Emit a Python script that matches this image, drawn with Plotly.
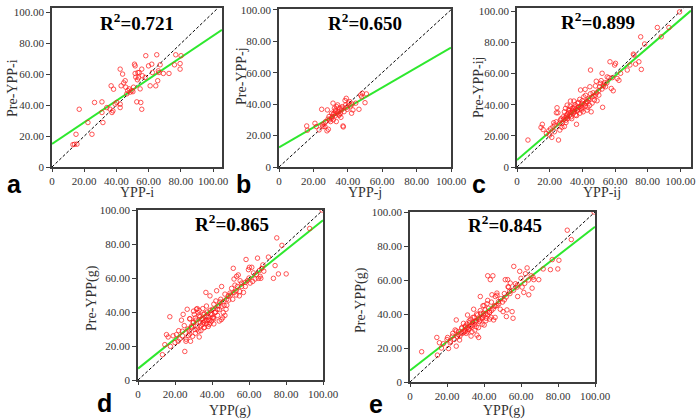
import plotly.graph_objects as go

# ---------------- data ----------------
a_x = [14, 14.9, 16.9, 22.3, 24.8, 26.4, 31, 31, 31.6, 34, 36.7, 37.2, 38.2, 37.8, 39.2, 40.2, 42.3, 42.3,
       42.3, 42.9, 43.8, 45.4, 45.8, 46.4, 47, 47.9, 49.5, 50.6, 51.2, 51.6, 51.6, 52, 52.6, 53.3, 53.7,
       54.1, 54.7, 55.1, 55.7, 55.7, 56.1, 58.2, 57.8, 59.9, 60.9, 61.9, 62.3, 64.4, 65, 65.6, 66, 66.4,
       67.1, 69.1, 72.6, 76, 76.8, 79.5, 79.5, 80.1, 13, 15.5, 48.5, 50.2, 44.5, 53, 36]
a_y = [14.7, 21.2, 37.4, 28.8, 21.2, 41.8, 42.2, 35.3, 28.8, 38.5, 52.6, 35.3, 50.4, 36.4, 40.7, 41.8, 38.5,
       40.7, 63.4, 52.6, 60.2, 55.9, 51.7, 47.4, 49.5, 50.6, 49.5, 51.7, 66.6, 65.5, 60.6, 58.2, 42.2, 61.2,
       57.8, 61.2, 50.6, 41.8, 37.4, 63.4, 59.1, 72.1, 58, 65.5, 52.6, 66.6, 61.2, 52.6, 72.7, 55.9, 62.3,
       61.2, 66.2, 60.6, 60.6, 66.2, 72.7, 67, 63.4, 72.1, 14.5, 14.8, 48.5, 48.8, 54.5, 56.5, 37.5]

b_x = [16.1, 16.5, 20.9, 21.7, 23.3, 24.8, 25.2, 25.6, 26.2, 26.7, 27.1, 28.1, 28.7, 29.1, 29.5, 30, 30.6,
       31, 31.4, 31.6, 32, 32.2, 32.6, 32.9, 33.3, 33.5, 33.9, 34.1, 34.5, 34.9, 35.3, 35.7, 36, 36.4, 36.8,
       37.2, 37.8, 38.4, 38.8, 39.1, 39.7, 40.3, 41.1, 41.7, 42.2, 43, 44.6, 46.5, 47.5, 48.4, 50, 50.8,
       27.9, 37.4, 48, 30.5, 33, 35, 31.5, 28.5, 36.5, 39.5, 42.5]
b_y = [26.1, 23.4, 27.8, 25.7, 23.6, 36.7, 26.7, 25.7, 27.4, 25.7, 28.9, 36.3, 24, 32.1, 30, 28.9, 34.2,
       32.1, 40.6, 30, 34.2, 37.4, 32.5, 36.3, 28.9, 38.4, 34.2, 39.5, 35.2, 33.1, 37.4, 34.2, 31.6, 36.3,
       38.4, 26.1, 35.2, 42.3, 39.5, 43.7, 36.7, 40.6, 41.6, 38.9, 34.2, 36.3, 40.6, 36.7, 45.8, 46.9,
       40.9, 46.5, 23, 25.5, 44.7, 31, 35.5, 33, 33.5, 30.5, 37.5, 38, 40]

c_x = [6.7, 14.7, 15.5, 19.4, 20, 21.3, 22, 22.5, 22.9, 24.1, 25, 25.4, 24.5, 26.2, 26.6, 27.6, 28.2, 29,
       29.7, 29.9, 30.3, 30.7, 31.1, 31.7, 32.3, 32.7, 33.1, 33.7, 34.4, 34.8, 35.2, 35.8, 36.4, 36.8, 37.2,
       37.8, 38.4, 38.9, 39.3, 39.9, 40.5, 40.9, 41.7, 41.9, 42.5, 42.9, 43.4, 44, 44.6, 45, 45.4, 46, 46.6,
       47.4, 48, 48.7, 49, 50.1, 50.7, 51.1, 51.5, 52.1, 52.4, 52.8, 53.6, 54.2, 55.2, 56.2, 56.9, 57.7,
       58.3, 58.9, 59.7, 60.3, 61.3, 62.4, 63.4, 67.5, 69.1, 71.6, 72.6, 74.6, 75.7, 76.1, 78.1, 85.9, 88.3,
       93, 99.5, 71.2,
       28.5, 29.5, 30.5, 31, 32, 33, 34, 35, 36, 37, 38, 39, 40, 41, 42, 43, 44, 35.5, 36.5, 33.5, 31.5, 30,
       27, 26, 38.5, 40, 42, 45, 47, 46, 48, 50, 52, 53, 55, 48.5, 44.5, 39.5, 37.5, 34.5, 32.5, 29, 27.5,
       24, 23, 20.5, 18, 16]
c_y = [17.3, 25.4, 27.4, 23.2, 20.5, 19, 25.8, 28.4, 22.6, 34.8, 34.8, 17.3, 38, 23.7, 30, 27.8, 32.2, 35.4,
       37.6, 30, 33.3, 39.7, 31.1, 34.8, 36.5, 42.3, 32.2, 37.6, 34.4, 42.3, 38.6, 33.3, 27.4, 36.5, 40.8,
       38.3, 43.4, 49.4, 37.6, 40.8, 35.4, 45, 49.8, 39.1, 41.9, 36.5, 38.3, 43, 51.5, 62.2, 35.4, 45, 47.6,
       43, 52, 47.6, 42.5, 46.1, 51.5, 53.7, 55.4, 60.1, 38.3, 52.6, 54.1, 51.5, 57.8, 57.3, 67.5, 50.4,
       57.3, 48.9, 65.4, 66.5, 56.8, 55.6, 60.1, 62.2, 65.4, 71.8, 66, 67.5, 83.5, 62.6, 78.9, 89.5, 83.5,
       89.5, 99.5, 72.4,
       30.5, 31.5, 32, 34, 33, 35, 36, 35.5, 37, 36, 38.5, 39, 38, 40.5, 41, 42, 44, 40, 33, 31, 36.5, 28.5,
       31, 28, 34.5, 42.5, 46, 47, 45.5, 41, 46, 49, 50, 52, 54, 55, 39.5, 36.5, 41.5, 38, 39, 26, 25.5,
       29, 27, 24.5, 21.5, 24]

d_x = [13.2, 14.5, 15.4, 16.3, 17.2, 17.5, 20.8, 21.7, 22.6, 23.5, 24, 24.4, 25.3, 25.9, 26.6, 27.1, 27.7,
       28, 28.4, 28.9, 29.5, 29.8, 30.4, 30.7, 31.3, 31.6, 32, 32.5, 32.9, 33.1, 33.5, 33.8, 34.4, 34.9, 35.3,
       35.6, 36.2, 36.7, 36.7, 37.1, 37.4, 38, 38.5, 38.9, 39.2, 39.8, 40.3, 40.7, 41, 41.6, 42.1, 42.5,
       42.9, 43.4, 43.9, 44.3, 44.7, 45.2, 45.8, 46.1, 46.5, 47, 47.6, 47.9, 48.8, 49.7, 50.6, 51.2, 51.5,
       51.9, 52.4, 53, 53.3, 53.7, 54.2, 54.8, 55.2, 56, 57, 57.9, 58.4, 59.1, 59.7, 60.2, 60.6, 61.5, 62.4,
       63.3, 64.6, 65.1, 65.6, 66.4, 66.9, 67.5, 70.5, 73.2, 74.1, 75, 75.9, 77.8, 80.1, 92.8, 99.5,
       30, 31, 32, 33, 34, 35, 36, 37, 38, 39, 40, 41, 42, 43, 44, 29, 28, 27, 26, 24, 33, 35, 37, 39, 36,
       34, 31, 45, 46, 48, 49, 50, 52, 53, 55, 56, 58, 60, 62, 64, 66, 68, 47, 45, 41, 38, 32, 30, 28, 25,
       22, 20, 19, 35.5, 38.5, 40.5]
d_y = [14.9, 20.8, 26.7, 25.3, 37.2, 19.8, 26.7, 22.8, 24.2, 35.2, 28.7, 38.6, 16.8, 22.8, 41.6, 26.1, 28.7,
       36, 22.8, 31.7, 25.7, 33.7, 38.6, 29.7, 35.2, 41.6, 31.7, 39.6, 28.7, 25.3, 37.2, 33.7, 35.6, 32.7,
       38.6, 30.7, 34.7, 51.5, 37.2, 33.3, 40, 35.6, 32.7, 49.5, 38.6, 34.7, 41.6, 36.6, 44.6, 39.6, 46.5,
       52.5, 41.6, 43.6, 34.7, 45.9, 47.5, 55, 36.6, 39.6, 44, 50.5, 41.6, 47.5, 49.5, 51.1, 53.9, 47.5,
       65.7, 59.4, 55.8, 52.5, 61, 55, 61.8, 49.5, 58.4, 55, 51.5, 57.4, 70.9, 58.4, 64.9, 66.3, 57, 66.3,
       63, 59.4, 71.7, 59.8, 64.4, 59.8, 65.7, 67.7, 72.3, 59.8, 67.3, 83.6, 62.4, 79.2, 62.4, 89.1, 100,
       34, 36.5, 30, 38, 32, 36, 39, 35, 37, 33.5, 38.5, 36, 40, 38, 41.5, 31, 27, 30, 24, 26, 41, 42, 43.5,
       41, 31, 29, 27.5, 43, 46, 44, 47, 50, 51.5, 50, 52, 57, 55, 60, 58, 62, 61, 64, 38, 35.5, 33, 31.5,
       42, 40.5, 36, 32, 29, 22, 26, 34, 35, 37]

e_x = [6.3, 14.5, 14.8, 15.9, 20.3, 20.8, 21.7, 23.1, 23.9, 24.4, 25, 25, 25.7, 26.2, 26.8, 28, 28.9, 29.3,
       29.8, 30.4, 30.7, 31.1, 31.6, 32.2, 32.5, 32.9, 33.5, 34, 34.4, 34.7, 35.3, 35.8, 36.2, 36.5, 37.1,
       37.6, 38, 38.3, 38.9, 39.4, 39.8, 40.1, 40.7, 41.2, 41.6, 42, 42.5, 43, 43.4, 43.8, 44.3, 44.8, 45.2,
       45.6, 46.1, 47, 47.9, 48.8, 50.3, 51, 51.5, 52.1, 52.4, 52.8, 53.3, 53.9, 54.2, 55.2, 55.7, 56.1, 57,
       57.9, 58.2, 59.3, 60.6, 61.5, 62.4, 63.3, 64.2, 65.5, 66, 66.5, 66.9, 69.6, 72, 75.9, 76.9, 79.9,
       80.5, 85, 87.2, 99.5,
       30, 31, 32, 33, 34, 35, 36, 37, 38, 39, 40, 41, 42, 43, 44, 45, 46, 47, 48, 29, 28, 27, 26, 35, 37,
       39, 41, 43, 40, 42, 38, 36, 34, 32, 49, 50, 51, 52, 53, 54, 56, 58, 60, 62, 64, 46, 44, 47, 33, 31,
       30, 28, 25, 23, 22, 20, 18, 17]
e_y = [17.8, 26.2, 15.8, 23.1, 26.2, 19.7, 23.1, 28.6, 25, 30.6, 36.5, 21.1, 26.6, 29.6, 24.7, 31.6, 34.5,
       29.6, 32.5, 28.6, 34.1, 39.4, 31, 34.9, 32.5, 36.9, 29.6, 33.5, 42.8, 38.1, 35.5, 32.5, 27.6, 39.4,
       26.2, 35.5, 50.3, 40.4, 37.5, 44.8, 40.4, 33.5, 42.4, 37.5, 46, 62.5, 43.4, 40.8, 60.2, 38.1, 51.3,
       62.5, 36.5, 44.8, 50.3, 52.3, 47.3, 42.8, 41.4, 48.3, 60.2, 38.5, 42.4, 60.2, 55.8, 53.3, 58.2, 41.4,
       37.5, 68, 57.8, 55.8, 50.3, 65.1, 55.8, 52.7, 63.7, 67.1, 51.3, 62.5, 55.2, 61.7, 60.2, 60.2, 66.5,
       66.1, 72, 66.5, 71.6, 89.3, 83.8, 100,
       30, 32, 31, 33, 35, 34, 36, 37, 36.5, 38, 39, 40, 39.5, 41, 42, 43, 44.5, 45, 46, 29, 28.5, 27, 28,
       30.5, 32, 34, 36, 37, 45, 48, 42, 40, 38, 36, 49, 47, 52, 50, 56, 52, 54, 57, 61, 58, 60, 38, 47, 51,
       27, 29.5, 33, 32, 30, 27, 24, 25, 22.5, 20]

x_titles = ["YPP-i", "YPP-j", "YPP-ij", "YPP(g)", "YPP(g)"]
y_titles = ["Pre-YPP-i", "Pre-YPP-j", "Pre-YPP-ij", "Pre-YPP(g)", "Pre-YPP(g)"]
r2_values = ["0.721", "0.650", "0.899", "0.865", "0.845"]
fit_intercepts = [15.0, 12.5, 4.5, 6.7, 6.8]
fit_slopes = [0.70, 0.635, 0.90, 0.873, 0.845]
panel_letters = ["a", "b", "c", "d", "e"]
tick_vals = [0, 20, 40, 60, 80, 100]
tick_text = ["0", "20.00", "40.00", "60.00", "80.00", "100.00"]

xs = [a_x, b_x, c_x, d_x, e_x]
ys = [a_y, b_y, c_y, d_y, e_y]

# ---------------- layout (pixel geometry) ----------------
W, H = 700, 420
geom = [
    # left, right, top, bottom (px), xmax, ymax
    dict(l=52, r=222, t=8, b=167, xmax=105.5, ymax=103),
    dict(l=279, r=451, t=9, b=167, xmax=100, ymax=100.5),
    dict(l=517, r=691, t=8, b=167, xmax=106.5, ymax=102),
    dict(l=138, r=323, t=210, b=380, xmax=100, ymax=100),
    dict(l=410, r=595, t=212, b=382, xmax=100, ymax=100),
]
letter_pos = [(14, 184), (243, 184), (479, 184), (104, 403), (376, 404)]
xtitle_pos = [(137, 193), (365, 193), (602, 193), (230, 411), (504, 411)]
ytitle_pos = [(12, 88), (241, 76), (478, 88), (92, 298), (361, 300)]
r2_pos = [(137, 22), (365, 22), (598, 21), (232, 223), (505, 224)]

SERIF = "Liberation Serif, Times New Roman, serif"
AX = "#3c3c3c"

fig = go.Figure()
layout = dict(width=W, height=H, margin=dict(l=0, r=0, t=0, b=0, autoexpand=False),
              paper_bgcolor="white", plot_bgcolor="white", showlegend=False)
annotations = []

def px2paper(x, y):
    return x / W, 1 - y / H

def ann(pos, text, font, **kw):
    px, py = px2paper(*pos)
    d = dict(x=px, y=py, xref="paper", yref="paper", showarrow=False, text=text,
             xanchor="center", yanchor="middle", font=font)
    d.update(kw)
    return d

for i in range(5):
    g = geom[i]
    sfx = "" if i == 0 else str(i + 1)
    xa, ya = "x" + sfx, "y" + sfx
    common = dict(showline=True, mirror=True, linecolor=AX, linewidth=1.6,
                  ticks="outside", tickcolor=AX, tickwidth=1.2,
                  showgrid=False, zeroline=False, tickvals=tick_vals, ticktext=tick_text,
                  tickangle=0, automargin=False,
                  tickfont=dict(family=SERIF, size=11, color="#333333"))
    layout["xaxis" + sfx] = dict(common, ticklen=3, domain=[g["l"] / W, g["r"] / W],
                                 range=[0, g["xmax"]], anchor=ya)
    layout["yaxis" + sfx] = dict(common, ticklen=4, domain=[1 - g["b"] / H, 1 - g["t"] / H],
                                 range=[0, g["ymax"]], anchor=xa)
    lim = min(g["xmax"], g["ymax"])
    # identity reference line
    fig.add_trace(go.Scatter(x=[0, lim], y=[0, lim], mode="lines", xaxis=xa, yaxis=ya,
                             line=dict(color="black", width=1, dash="3px,2px")))
    # regression line
    fx = [0, g["xmax"]]
    fy = [fit_intercepts[i] + fit_slopes[i] * v for v in fx]
    fig.add_trace(go.Scatter(x=fx, y=fy, mode="lines", xaxis=xa, yaxis=ya,
                             line=dict(color="#2ee82e", width=2)))
    # observations
    fig.add_trace(go.Scatter(x=xs[i], y=ys[i], mode="markers", xaxis=xa, yaxis=ya,
                             marker=dict(symbol="circle-open", size=4.5,
                                         color="rgba(255,30,30,0.75)",
                                         line=dict(width=1))))
    annotations.append(ann(r2_pos[i], "<b>R<sup>2</sup>=" + r2_values[i] + "</b>",
                           dict(family=SERIF, size=19, color="black")))
    annotations.append(ann(letter_pos[i], "<b>" + panel_letters[i] + "</b>",
                           dict(family="Liberation Sans, Arial, sans-serif", size=25, color="black")))
    annotations.append(ann(xtitle_pos[i], x_titles[i], dict(family=SERIF, size=14, color="#333333")))
    annotations.append(ann(ytitle_pos[i], y_titles[i], dict(family=SERIF, size=14, color="#333333"),
                           textangle=-90))

layout["annotations"] = annotations
fig.update_layout(**layout)
fig.write_html("out.html", config={"displayModeBar": False},
               post_script="document.body.style.margin='0px';document.body.style.padding='0px';")
